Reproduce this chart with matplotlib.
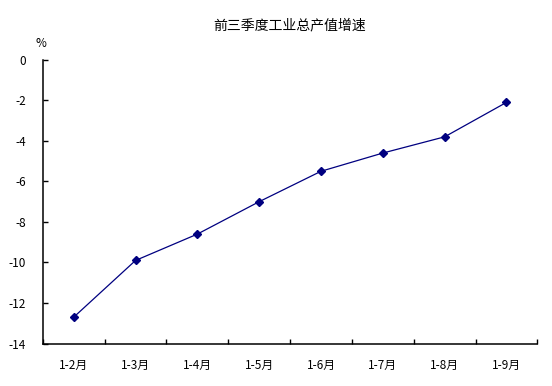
import matplotlib
matplotlib.use("Agg")
import matplotlib.pyplot as plt
import numpy as np

plt.rcParams['font.family'] = ['Noto Sans CJK SC', 'DejaVu Sans']

# 工业总产值累计增速 (%)
meses = ["1-2月", "1-3月", "1-4月", "1-5月", "1-6月", "1-7月", "1-8月", "1-9月"]
tasa = [-12.7, -9.9, -8.6, -7.0, -5.5, -4.6, -3.8, -2.1]
y_ticks = [0, -2, -4, -6, -8, -10, -12, -14]

fig = plt.figure(figsize=(5.52, 3.86), dpi=100)
ax = fig.add_axes([0.0775, 0.11, 0.896, 0.735])

x = np.arange(len(meses))
ax.plot(x, tasa, color="#000080", linewidth=0.9,
        marker="D", markersize=4, markerfacecolor="#000080",
        markeredgecolor="#000080")

ax.set_xlim(-0.5, len(meses) - 0.5)
ax.set_ylim(-14, 0)
ax.set_yticks(y_ticks)
ax.set_yticklabels([str(v) for v in y_ticks], fontsize=8.5)

# categorías entre marcas
ax.set_xticks(np.arange(len(meses) + 1) - 0.5)
ax.set_xticklabels([])
ax.set_xticks(x, minor=True)
ax.set_xticklabels(meses, minor=True, fontsize=8.5)
ax.tick_params(axis="x", which="major", direction="in", length=3.5, width=1)
ax.tick_params(axis="x", which="minor", length=0, pad=11)
ax.tick_params(axis="y", direction="in", length=3.5, width=1, pad=12)

for lado in ["top", "right"]:
    ax.spines[lado].set_visible(False)
for lado in ["left", "bottom"]:
    ax.spines[lado].set_linewidth(1.1)

ax.set_title("前三季度工业总产值增速", fontsize=10, pad=22)
fig.text(0.074, 0.888, "%", fontsize=8.5, ha="center", va="center")

fig.savefig("out.png", dpi=100)
